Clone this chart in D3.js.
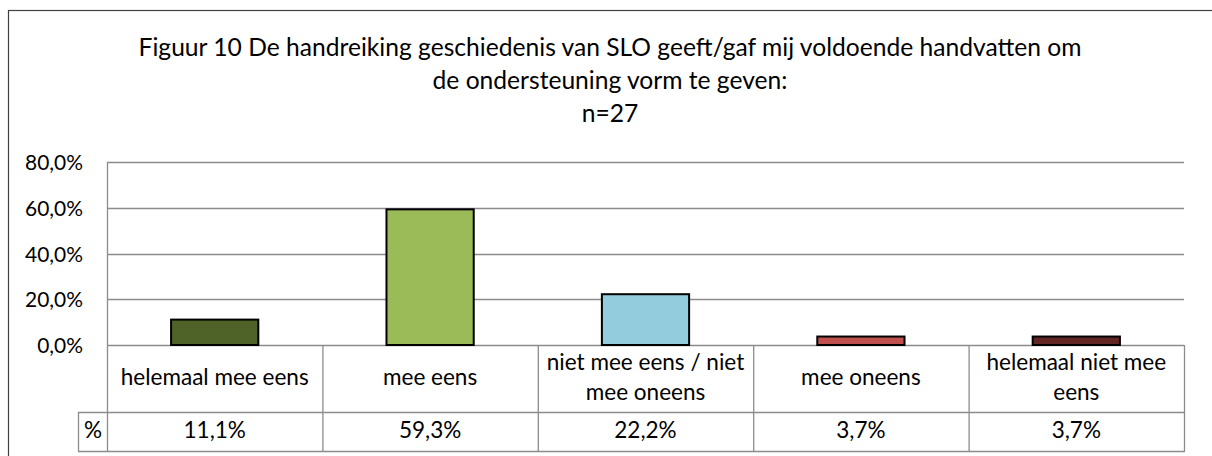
<!DOCTYPE html>
<html>
<head>
<meta charset="utf-8">
<script src="https://cdn.jsdelivr.net/npm/d3@7"></script>
<style>
  html, body { margin: 0; padding: 0; background: #fff; }
  svg { display: block; }
  text { font-family: Lato, "Open Sans", sans-serif; fill: #000; }
</style>
</head>
<body>
<svg id="chart" width="1212" height="456"></svg>
<script>
// ---- data ----
const titleLines = ["Figuur 10 De handreiking geschiedenis van SLO geeft/gaf mij voldoende handvatten om",
                    "de ondersteuning vorm te geven:",
                    "n=27"];
const categories = [["helemaal mee eens"], ["mee eens"], ["niet mee eens / niet", "mee oneens"], ["mee oneens"], ["helemaal niet mee", "eens"]];
const values = [11.1, 59.3, 22.2, 3.7, 3.7];
const valueLabels = ["11,1%", "59,3%", "22,2%", "3,7%", "3,7%"];
const barColors = ["#4F6228", "#9BBB59", "#93CDDD", "#C0504D", "#632523"];
const yTicks = [0, 20, 40, 60, 80];
const seriesName = "%";

// ---- layout ----
const svg = d3.select("#chart");
const plot = { left: 107, right: 1184, top: 162, bottom: 345 };
const table = { catBottom: 412, valBottom: 451, keyLeft: 78 };

function fitSize(sel, targetWidth, base) {
  sel.style("font-size", base + "px");
  const w = sel.node().getComputedTextLength();
  const s = base * targetWidth / w;
  sel.style("font-size", s + "px");
  return s;
}

// outer border
svg.append("rect").attr("x", 8.5).attr("y", 10.5).attr("width", 1220).attr("height", 460)
  .attr("fill", "none").attr("stroke", "#404040").attr("stroke-width", 1.2);

// title
const t1 = svg.append("text").attr("x", 610).attr("y", 56).attr("text-anchor", "middle").text(titleLines[0]);
const tSize = fitSize(t1, 943, 20);
svg.append("text").attr("x", 610).attr("y", 89).attr("text-anchor", "middle").style("font-size", tSize + "px").text(titleLines[1]);
svg.append("text").attr("x", 610).attr("y", 122).attr("text-anchor", "middle").style("font-size", tSize + "px").text(titleLines[2]);

// scales
const x = d3.scaleBand().domain(d3.range(values.length)).range([plot.left, plot.right]).padding(0);
const y = d3.scaleLinear().domain([0, 80]).range([plot.bottom, plot.top]);
const barW = x.bandwidth() * 0.405;

// gridlines
svg.append("g").selectAll("line").data(yTicks).join("line")
  .attr("x1", plot.left).attr("x2", plot.right)
  .attr("y1", d => Math.round(y(d)) + 0.5).attr("y2", d => Math.round(y(d)) + 0.5)
  .attr("stroke", "#8c8c8c").attr("stroke-width", 1.3);

// y axis labels
const yAxis = d3.axisLeft(y).tickValues(yTicks).tickSize(0).tickPadding(0)
  .tickFormat(d => d3.format(".1f")(d).replace(".", ",") + "%");
const yg = svg.append("g").attr("transform", "translate(83,0)").call(yAxis);
yg.select(".domain").remove();
yg.selectAll("text").style("font-family", "Lato, sans-serif").attr("fill", "#000");
const tickText = yg.selectAll("text").filter(d => d === 80);
const tickSize = fitSize(tickText, 58, 20);
yg.selectAll("text").style("font-size", tickSize + "px").attr("dy", "0.36em");

// bars
svg.append("g").selectAll("rect").data(values).join("rect")
  .attr("x", (d, i) => x(i) + (x.bandwidth() - barW) / 2)
  .attr("y", d => y(d))
  .attr("width", barW)
  .attr("height", d => y(0) - y(d))
  .attr("fill", (d, i) => barColors[i])
  .attr("stroke", "#000").attr("stroke-width", 2);

// data table lines
const tg = svg.append("g").attr("stroke", "#8c8c8c").attr("stroke-width", 1.3).attr("fill", "none");
// vertical lines
tg.append("line").attr("x1", plot.left + 0.5).attr("x2", plot.left + 0.5).attr("y1", plot.top).attr("y2", table.valBottom);
d3.range(1, values.length + 1).forEach(i => {
  const xx = (i === values.length ? plot.right : x(i)) + 0.5;
  tg.append("line").attr("x1", xx).attr("x2", xx).attr("y1", plot.bottom).attr("y2", table.valBottom);
});
tg.append("line").attr("x1", table.keyLeft + 0.5).attr("x2", table.keyLeft + 0.5).attr("y1", table.catBottom).attr("y2", table.valBottom);
// horizontal lines
tg.append("line").attr("x1", table.keyLeft).attr("x2", plot.right).attr("y1", table.catBottom + 0.5).attr("y2", table.catBottom + 0.5);
tg.append("line").attr("x1", table.keyLeft).attr("x2", plot.right + 1).attr("y1", table.valBottom + 0.5).attr("y2", table.valBottom + 0.5);

// category labels
const catG = svg.append("g");
const probe = catG.append("text").text(categories[0][0]);
const catSize = fitSize(probe, 188, 20);
probe.remove();
categories.forEach((lines, i) => {
  const cx = x(i) + x.bandwidth() / 2;
  const txt = catG.append("text").attr("text-anchor", "middle").style("font-size", catSize + "px");
  const baseY = lines.length === 1 ? 385 : 370;
  lines.forEach((l, j) => {
    txt.append("tspan").attr("x", cx).attr("y", baseY + j * 30).text(l);
  });
});

// value row
svg.append("g").selectAll("text").data(valueLabels).join("text")
  .attr("x", (d, i) => x(i) + x.bandwidth() / 2).attr("y", 437.5)
  .attr("text-anchor", "middle").style("font-size", catSize + "px").text(d => d);
svg.append("text").attr("x", (table.keyLeft + plot.left) / 2 + 0.5).attr("y", 437.5)
  .attr("text-anchor", "middle").style("font-size", catSize + "px").text(seriesName);
</script>
</body>
</html>
